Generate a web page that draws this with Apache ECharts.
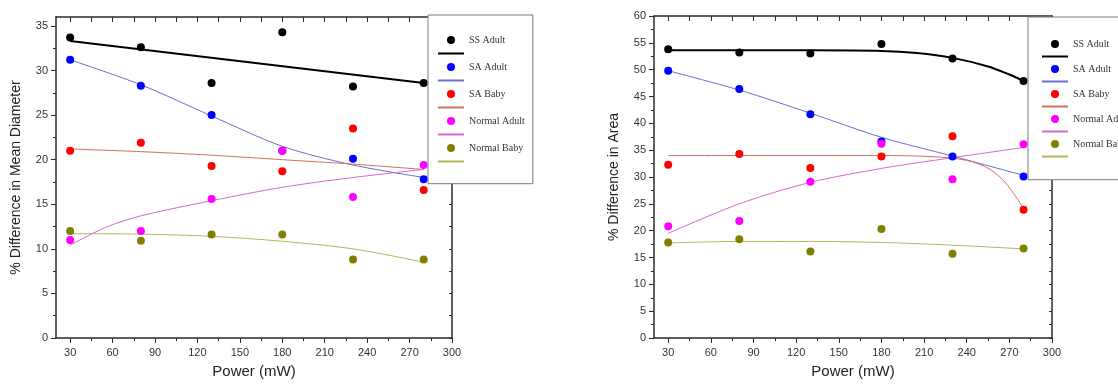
<!DOCTYPE html>
<html>
<head>
<meta charset="utf-8">
<script src="https://cdn.jsdelivr.net/npm/echarts@6.0.0/dist/echarts.min.js"></script>
<style>
  html, body { margin: 0; padding: 0; background: #fff; }
  #chart { width: 1118px; height: 384px; }
</style>
</head>
<body>
<div id="chart"></div>
<script>
const POWER = [30, 80, 130, 180, 230, 280]

// % difference in mean diameter (left panel)
const DIA_SS_ADULT = [33.7, 32.6, 28.6, 34.3, 28.2, 28.6]
const DIA_SA_ADULT = [31.2, 28.3, 25.0, 21.0, 20.1, 17.8]
const DIA_SA_BABY = [21.0, 21.9, 19.3, 18.7, 23.5, 16.6]
const DIA_NORMAL_ADULT = [11.0, 12.0, 15.6, 21.0, 15.8, 19.4]
const DIA_NORMAL_BABY = [12.0, 10.9, 11.6, 11.6, 8.8, 8.8]

// fitted curves as [power, value]
const DIA_SS_ADULT_FIT = [[30, 33.3], [280, 28.6]]
const DIA_SA_ADULT_FIT = [[30, 31.2], [80, 28.4], [130, 24.9], [180, 21.5], [230, 19.4], [280, 18.0]]
const DIA_SA_BABY_FIT = [[30, 21.2], [80, 20.9], [130, 20.5], [180, 20.0], [230, 19.5], [280, 18.9]]
const DIA_NORMAL_ADULT_FIT = [[30, 10.4], [55, 12.4], [80, 13.7], [130, 15.4], [180, 16.9], [230, 18.0], [280, 18.9]]
const DIA_NORMAL_BABY_FIT = [[30, 11.7], [80, 11.65], [130, 11.4], [180, 10.85], [230, 10.0], [280, 8.5]]

// % difference in area (right panel)
const AREA_SS_ADULT = [53.8, 53.2, 53.0, 54.8, 52.1, 47.9]
const AREA_SA_ADULT = [49.8, 46.4, 41.7, 36.6, 33.8, 30.1]
const AREA_SA_BABY = [32.3, 34.3, 31.7, 33.8, 37.6, 23.9]
const AREA_NORMAL_ADULT = [20.8, 21.8, 29.1, 36.2, 29.6, 36.1]
const AREA_NORMAL_BABY = [17.8, 18.4, 16.1, 20.3, 15.7, 16.7]

const AREA_SS_ADULT_FIT = [[30, 53.6], [130, 53.6], [180, 53.5], [205, 53.1], [230, 52.2], [255, 50.6], [270, 49.1], [280, 47.9]]
const AREA_SA_ADULT_FIT = [[30, 49.8], [80, 46.2], [130, 41.9], [180, 37.4], [230, 33.9], [280, 30.3]]
const AREA_SA_BABY_FIT = [[30, 34.0], [180, 34.0], [215, 33.8], [240, 33.1], [256, 31.5], [268, 28.7], [280, 24.1]]
const AREA_NORMAL_ADULT_FIT = [[30, 19.5], [80, 25.0], [130, 29.0], [180, 31.6], [230, 33.6], [280, 35.5]]
const AREA_NORMAL_BABY_FIT = [[30, 17.7], [80, 18.0], [130, 18.0], [180, 17.8], [230, 17.3], [280, 16.6]]

// ticks
const X_TICKS = [30, 60, 90, 120, 150, 180, 210, 240, 270, 300]
const X_MINOR = [45, 75, 105, 135, 165, 195, 225, 255, 285]
const X_TOP_TICKS = [30, 45, 60, 75, 90, 105, 120, 135, 150, 165, 180, 195, 210, 225, 240, 255, 270, 285, 300]
const DIA_Y_TICKS = [0, 5, 10, 15, 20, 25, 30, 35]
const DIA_Y_MINOR = [2.5, 7.5, 12.5, 17.5, 22.5, 27.5, 32.5]
const DIA_Y_RIGHT = [0, 2.5, 5, 7.5, 10, 12.5, 15, 17.5, 20, 22.5, 25, 27.5, 30, 32.5, 35]
const AREA_Y_TICKS = [0, 5, 10, 15, 20, 25, 30, 35, 40, 45, 50, 55, 60]
const AREA_Y_MINOR = [2.5, 7.5, 12.5, 17.5, 22.5, 27.5, 32.5, 37.5, 42.5, 47.5, 52.5, 57.5]
const AREA_Y_RIGHT = [0, 2.5, 5, 7.5, 10, 12.5, 15, 17.5, 20, 22.5, 25, 27.5, 30, 32.5, 35, 37.5, 40, 42.5, 45, 47.5, 50, 52.5, 55, 57.5]

const GROUPS = ['SS Adult', 'SA Adult', 'SA Baby', 'Normal Adult', 'Normal Baby']
const POINT_COLORS = ['#000000', '#0000ff', '#ff0000', '#ff00ff', '#808000']
const FIT_COLORS = ['#000000', '#6470d2', '#d46e62', '#d468d4', '#b4b45a']
const FIT_WIDTHS = [2, 1, 1, 1, 1]

const AXIS_COLOR = '#2b2b2b'
const LABEL_COLOR = '#333'
const SANS = 'Liberation Sans, Arial, sans-serif'

function buildXAxes(gridIndex) {
  const line = { show: true, onZero: false, lineStyle: { color: AXIS_COLOR, width: 1.5 } }
  return [
    {
      gridIndex, type: 'value', position: 'bottom', min: 20, max: 300,
      axisLine: line,
      axisTick: { customValues: X_TICKS, length: 5, lineStyle: { color: AXIS_COLOR } },
      axisLabel: { customValues: X_TICKS, color: LABEL_COLOR, fontSize: 11, fontFamily: SANS, margin: 9 },
      splitLine: { show: false },
      name: 'Power (mW)', nameLocation: 'middle', nameGap: 26,
      nameTextStyle: { color: '#222', fontSize: 15, fontFamily: SANS },
    },
    {
      gridIndex, type: 'value', position: 'bottom', min: 20, max: 300,
      axisLine: { show: false },
      axisTick: { customValues: X_MINOR, length: 3, lineStyle: { color: AXIS_COLOR } },
      axisLabel: { show: false },
      splitLine: { show: false },
    },
    {
      gridIndex, type: 'value', position: 'top', min: 20, max: 300,
      axisLine: line,
      axisTick: { customValues: X_TOP_TICKS, inside: true, length: 5, lineStyle: { color: AXIS_COLOR } },
      axisLabel: { show: false },
      splitLine: { show: false },
    },
  ]
}

function buildYAxes(gridIndex, max, ticks, minor, right, title) {
  const line = { show: true, onZero: false, lineStyle: { color: AXIS_COLOR, width: 1.5 } }
  return [
    {
      gridIndex, type: 'value', position: 'left', min: 0, max,
      axisLine: line,
      axisTick: { customValues: ticks, length: 5, lineStyle: { color: AXIS_COLOR } },
      axisLabel: { customValues: ticks, color: LABEL_COLOR, fontSize: 11, fontFamily: SANS, margin: 8 },
      splitLine: { show: false },
      name: title, nameLocation: 'middle', nameGap: 33,
      nameTextStyle: { color: '#222', fontSize: 14, fontFamily: SANS },
    },
    {
      gridIndex, type: 'value', position: 'left', min: 0, max,
      axisLine: { show: false },
      axisTick: { customValues: minor, length: 3, lineStyle: { color: AXIS_COLOR } },
      axisLabel: { show: false },
      splitLine: { show: false },
    },
    {
      gridIndex, type: 'value', position: 'right', min: 0, max,
      axisLine: line,
      axisTick: { customValues: right, inside: true, length: 3, lineStyle: { color: AXIS_COLOR } },
      axisLabel: { show: false },
      splitLine: { show: false },
    },
  ]
}

function buildSeries(axisBase, points, fits) {
  const series = []
  GROUPS.forEach((name, i) => {
    series.push({
      name,
      type: 'scatter',
      xAxisIndex: axisBase,
      yAxisIndex: axisBase,
      symbol: 'circle',
      symbolSize: 8,
      itemStyle: { color: POINT_COLORS[i], opacity: 1 },
      data: POWER.map((p, k) => [p, points[i][k]]),
      z: 3,
    })
    series.push({
      name: name + ' fit',
      type: 'line',
      xAxisIndex: axisBase,
      yAxisIndex: axisBase,
      smooth: 0.3,
      symbol: 'none',
      lineStyle: { color: FIT_COLORS[i], width: FIT_WIDTHS[i] },
      itemStyle: { color: FIT_COLORS[i] },
      data: fits[i],
      z: 2,
    })
  })
  return series
}

function buildLegend(left, top, padding, itemGap) {
  const data = []
  GROUPS.forEach((name) => {
    data.push({ name })
    // fit entries show only a line segment, no marker and no text
    data.push({ name: name + ' fit', itemStyle: { opacity: 0 } })
  })
  return {
    orient: 'vertical',
    left, top, padding, itemGap,
    itemWidth: 26,
    itemHeight: 8,
    backgroundColor: '#fff',
    borderColor: '#7a7a7a',
    borderWidth: 1,
    borderRadius: 0,
    data,
    formatter: (name) => (name.endsWith(' fit') ? '' : name),
    textStyle: { fontFamily: 'Liberation Serif, Times New Roman, serif', fontSize: 10, color: '#333', lineHeight: 8 },
    selectedMode: false,
  }
}

const chart = echarts.init(document.getElementById('chart'), null, { renderer: 'canvas' })
chart.setOption({
  animation: false,
  backgroundColor: '#fff',
  grid: [
    { left: 56, top: 17, width: 396, height: 323 },
    { left: 654, top: 16, width: 398, height: 324 },
  ],
  xAxis: [...buildXAxes(0), ...buildXAxes(1)],
  yAxis: [
    ...buildYAxes(0, 36, DIA_Y_TICKS, DIA_Y_MINOR, DIA_Y_RIGHT, '% Difference in Mean Diameter'),
    ...buildYAxes(1, 60, AREA_Y_TICKS, AREA_Y_MINOR, AREA_Y_RIGHT, '% Difference in Area'),
  ],
  legend: [
    buildLegend(428, 15, [20, 8, 19, 9], 5.3),
    buildLegend(1028, 17, [22, 8, 20, 13], 4.3),
  ],
  series: [
    ...buildSeries(0,
      [DIA_SS_ADULT, DIA_SA_ADULT, DIA_SA_BABY, DIA_NORMAL_ADULT, DIA_NORMAL_BABY],
      [DIA_SS_ADULT_FIT, DIA_SA_ADULT_FIT, DIA_SA_BABY_FIT, DIA_NORMAL_ADULT_FIT, DIA_NORMAL_BABY_FIT]),
    ...buildSeries(3,
      [AREA_SS_ADULT, AREA_SA_ADULT, AREA_SA_BABY, AREA_NORMAL_ADULT, AREA_NORMAL_BABY],
      [AREA_SS_ADULT_FIT, AREA_SA_ADULT_FIT, AREA_SA_BABY_FIT, AREA_NORMAL_ADULT_FIT, AREA_NORMAL_BABY_FIT]),
  ],
})
</script>
</body>
</html>
